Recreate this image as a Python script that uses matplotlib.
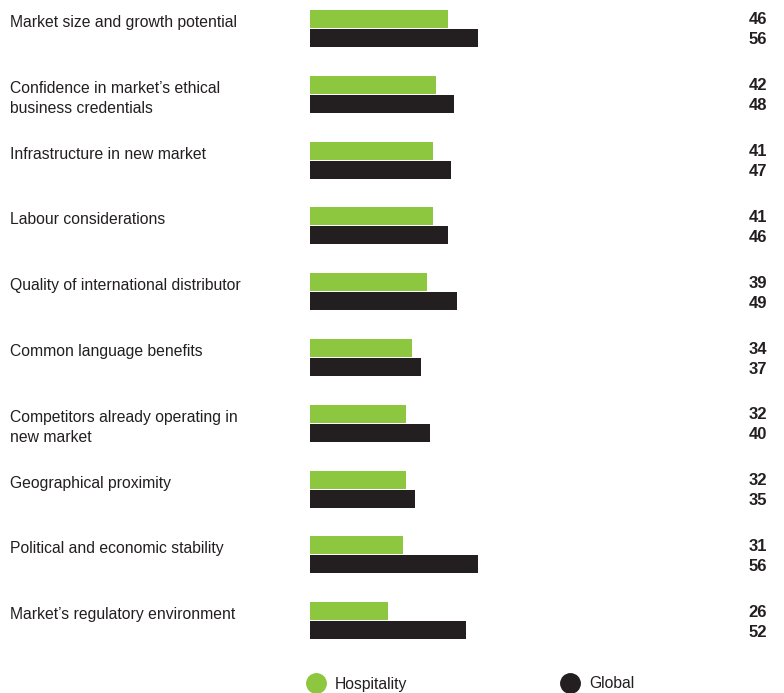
import numpy as np
import matplotlib.pyplot as plt
import matplotlib.transforms as mtrans
from matplotlib.lines import Line2D

labels = [
    'Market size and growth potential',
    'Confidence in market\u2019s ethical\nbusiness credentials',
    'Infrastructure in new market',
    'Labour considerations',
    'Quality of international distributor',
    'Common language benefits',
    'Competitors already operating in\nnew market',
    'Geographical proximity',
    'Political and economic stability',
    'Market\u2019s regulatory environment',
]
hospitality = [46, 42, 41, 41, 39, 34, 32, 32, 31, 26]
global_vals = [56, 48, 47, 46, 49, 37, 40, 35, 56, 52]

GREEN = '#8dc63f'
BLACK = '#231f20'
W, H = 784, 693

plt.rcParams['font.family'] = ['Liberation Sans', 'DejaVu Sans']

fig = plt.figure(figsize=(W / 100, H / 100), dpi=100)
ax = fig.add_axes([310 / W, 0, 180 / W, 1])
ax.set_xlim(0, 60)
ax.set_ylim(H, 0)   # y in pixels from the top
ax.axis('off')

pitch = 65.8
bh = 18
top = 10 + pitch * np.arange(len(labels))
ax.barh(top + bh / 2, hospitality, height=bh, color=GREEN)
ax.barh(top + bh * 1.5 + 1, global_vals, height=bh, color=BLACK)

tr = mtrans.blended_transform_factory(fig.transFigure, ax.transData)
for i, lab in enumerate(labels):
    ax.text(10 / W, top[i] + 5, lab, transform=tr, ha='left', va='top',
            fontsize=11.3, color='#231f20', linespacing=1.45)
    ax.text(767 / W, top[i] + bh / 2 + 1, str(hospitality[i]), transform=tr,
            ha='right', va='center', fontsize=12, fontweight='bold',
            color='#231f20')
    ax.text(767 / W, top[i] + bh * 1.5 + 3, str(global_vals[i]), transform=tr,
            ha='right', va='center', fontsize=12, fontweight='bold',
            color='#231f20')

# legend
for x0, col, name in [(316, GREEN, 'Hospitality'), (570, BLACK, 'Global')]:
    fig.add_artist(Line2D([x0 / W], [1 - 683 / H], marker='o', markersize=14,
                          color=col, linestyle='none'))
    fig.text((x0 + 19) / W, 1 - 684 / H, name, ha='left', va='center',
             fontsize=11.3, color='#231f20')

plt.savefig('out.png', dpi=100)
